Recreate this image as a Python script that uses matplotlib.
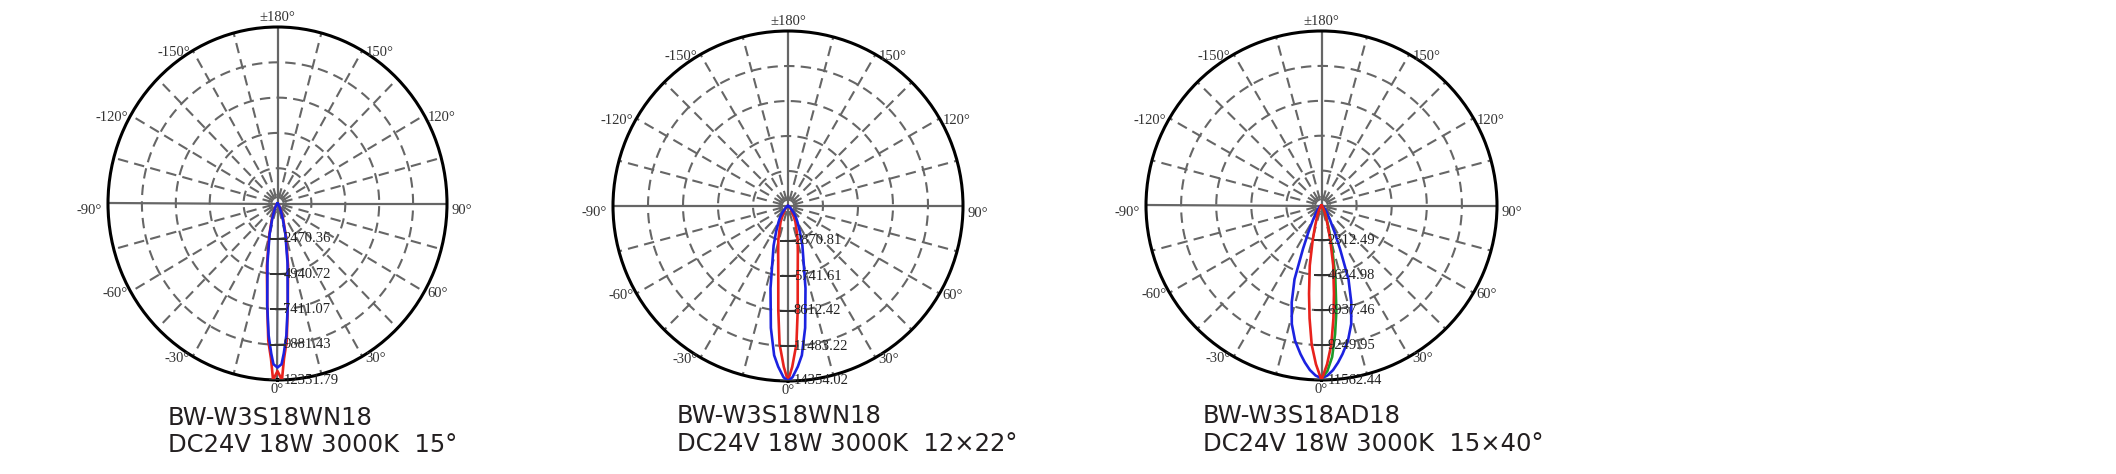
import numpy as np
import matplotlib.pyplot as plt

W, H = 2116, 474

# ---------------- data (candela vs. angle, half profiles) ----------------
ang1 = [0, 1.5, 2.5, 4, 6, 10, 15, 20, 25, 30, 40, 50, 60, 75, 90]
red1 = [11730, 12351.79, 10870, 9630, 7160, 4450, 2350, 1240, 620, 370, 150, 80, 50, 20, 0]
blue1 = [11480, 11250, 10500, 9260, 7160, 4200, 2220, 1100, 560, 320, 120, 70, 40, 15, 0]
max1 = 12351.79
rings1 = ["2470.36", "4940.72", "7411.07", "9881.43", "12351.79"]

ang2 = [0, 1.5, 3.5, 5.3, 8, 12, 16, 20, 25, 30, 35, 40, 50, 60, 75, 90]
red2 = [14354, 13200, 11340, 8610, 5740, 3880, 2870, 2010, 1440, 860, 575, 400, 215, 110, 40, 0]
blue2 = [14354, 14050, 13200, 12300, 10100, 6900, 4600, 3450, 2300, 1580, 1150, 720, 300, 140, 50, 0]
max2 = 14354.02
rings2 = ["2870.81", "5741.61", "8612.42", "11483.22", "14354.02"]

ang3 = [0, 2, 4, 6, 8, 11, 14, 17, 20, 23, 26, 30, 35, 40, 50, 60, 75, 90]
blue3 = [11450, 11270, 10930, 10460, 9940, 9130, 8090, 6710, 5200, 3120, 1970, 1160, 690, 460, 230, 115, 60, 0]
red3 = [11562, 10520, 9250, 7520, 5900, 4050, 2430, 1500, 925, 635, 405, 230, 140, 90, 58, 35, 12, 0]
green3 = [11450, 10980, 10060, 8560, 7050, 4740, 2890, 1730, 1040, 690, 460, 230, 140, 90, 58, 35, 12, 0]
max3 = 11562.44
rings3 = ["2312.49", "4624.98", "6937.46", "9249.95", "11562.44"]

titles = [("BW-W3S18WN18", "DC24V 18W 3000K  15°"),
          ("BW-W3S18WN18", "DC24V 18W 3000K  12×22°"),
          ("BW-W3S18AD18", "DC24V 18W 3000K  15×40°")]

RED, BLUE, GREEN = "#e8221c", "#1c22e0", "#1e9a2a"
SERIF = "Liberation Serif"

fig = plt.figure(figsize=(W / 100, H / 100), dpi=100)


def mirror(ang, vals):
    a = np.radians(np.concatenate([-np.array(ang[::-1]), np.array(ang[1:])]))
    v = np.concatenate([np.array(vals[::-1]), np.array(vals[1:])])
    return a, v


def panel(box, cdmax, ring_labels, curves):
    l, t, r, b = box
    ax = fig.add_axes([l / W, 1 - b / H, (r - l) / W, (b - t) / H], projection="polar")
    ax.set_aspect("auto")
    ax.set_theta_zero_location("S")
    ax.set_theta_direction(1)
    ax.set_ylim(0, cdmax)
    ax.set_xticks([])
    ax.set_yticks([])
    ax.grid(False)
    ax.spines["polar"].set_linewidth(2.2)
    ax.spines["polar"].set_color("black")

    full = np.linspace(0, 2 * np.pi, 361)
    dash = (0, (5, 3))
    for i in range(1, 5):
        ax.plot(full, np.full_like(full, cdmax * i / 5), color="#666666", lw=1.5, ls=dash, zorder=1)
    ax.plot(full, np.full_like(full, cdmax * 0.05), color="#8a8a8a", lw=1.2, zorder=1)
    for a in range(0, 360, 15):
        th = np.radians(a)
        if a % 90 == 0:
            ax.plot([th, th], [0, cdmax], color="#666666", lw=1.6, zorder=1)
        else:
            ax.plot([th, th], [cdmax * 0.03, cdmax], color="#666666", lw=1.5, ls=dash, zorder=1)

    for a, v, c in curves:
        ax.plot(a, v, color=c, lw=1.9, zorder=3)

    # radial value labels along 0 deg
    for i, lab in enumerate(ring_labels):
        rr = cdmax * (i + 1) / 5
        ax.plot(0, rr, marker="_", ms=11, mew=1.3, color="#333333", zorder=4)
        ax.annotate(lab, xy=(0, rr), xytext=(6, 0), textcoords="offset pixels",
                    ha="left", va="center", fontsize=10.5, family=SERIF, color="#222222", zorder=5)

    # angle labels
    for a in range(-150, 181, 30):
        th = np.radians(a)
        if a == 180:
            txt, dx, dy, ha, va = "±180°", 0, 3, "center", "bottom"
        elif a == 0:
            txt, dx, dy, ha, va = "0°", 0, -3, "center", "top"
        elif a == 90:
            txt, dx, dy, ha, va = "90°", 5, -7, "left", "center"
        elif a == -90:
            txt, dx, dy, ha, va = "-90°", -6, -7, "right", "center"
        elif a > 0:
            txt, dx, dy, ha, va = f"{a}°", 3, -2, "left", "center"
        else:
            txt, dx, dy, ha, va = f"{a}°", -3, -2, "right", "center"
        ax.annotate(txt, xy=(th, cdmax), xytext=(dx, dy), textcoords="offset pixels",
                    ha=ha, va=va, fontsize=10.5, family=SERIF, color="#333333",
                    annotation_clip=False)
    return ax


a1, r1 = mirror(ang1, red1)
_, b1 = mirror(ang1, blue1)
panel((108, 27, 447, 380), max1, rings1, [(a1, r1, RED), (a1, b1, BLUE)])

a2, r2 = mirror(ang2, red2)
_, b2 = mirror(ang2, blue2)
panel((613, 31, 963, 381), max2, rings2, [(a2, r2, RED), (a2, b2, BLUE)])

a3, r3 = mirror(ang3, red3)
_, b3 = mirror(ang3, blue3)
g3 = np.radians(np.array(ang3))
panel((1146, 31, 1497, 380), max3, rings3,
      [(a3, b3, BLUE), (g3, np.array(green3), GREEN), (a3, r3, RED)])

# captions
for (line1, line2), x0, y1, y2 in zip(titles, [168, 677, 1203], [425, 423, 423], [452, 451, 451]):
    fig.text(x0 / W, 1 - y1 / H, line1, fontsize=17.5, family="DejaVu Sans",
             color="#231f20", ha="left", va="baseline")
    fig.text(x0 / W, 1 - y2 / H, line2, fontsize=17.5, family="DejaVu Sans",
             color="#231f20", ha="left", va="baseline")

fig.savefig("out.png", dpi=100)
